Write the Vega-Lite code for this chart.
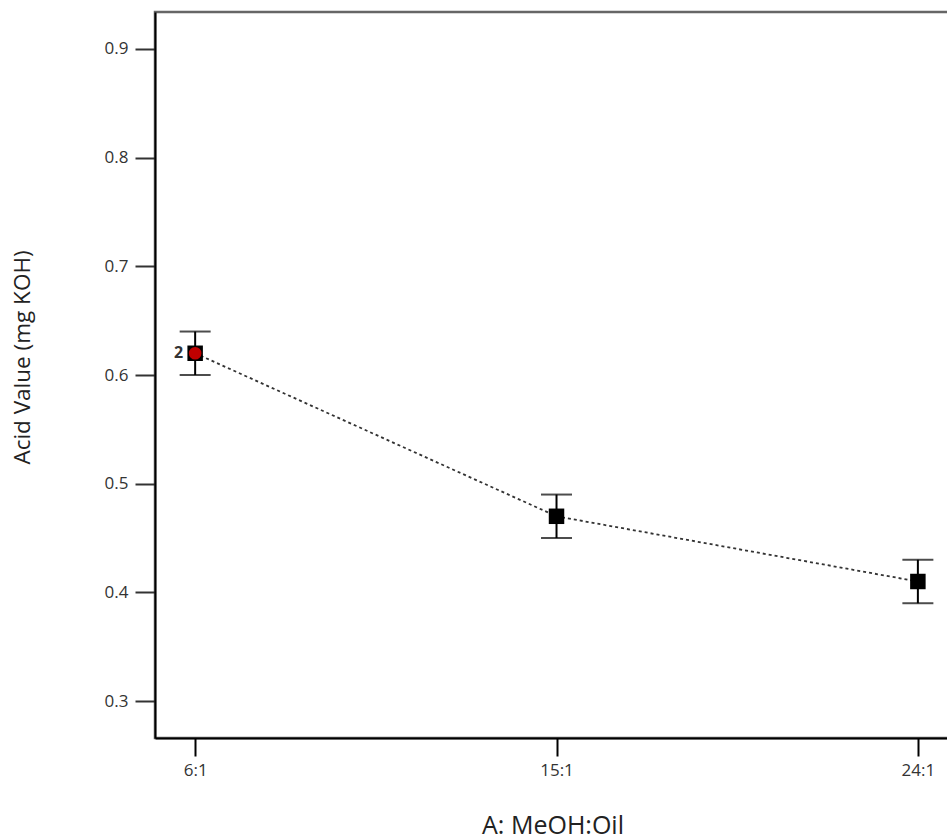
{
  "$schema": "https://vega.github.io/schema/vega-lite/v6.json",
  "autosize": "none",
  "width": 795,
  "height": 726,
  "padding": {"left": 155, "top": 12, "right": 0, "bottom": 101},
  "background": "white",
  "config": {
    "view": {"stroke": "#666", "strokeWidth": 2.5},
    "font": "Open Sans"
  },
  "data": {
    "values": [
      {"ratio": 6, "acid": 0.62, "lo": 0.60, "hi": 0.64, "design": "yes", "count": "2"},
      {"ratio": 15, "acid": 0.47, "lo": 0.45, "hi": 0.49, "design": "no", "count": ""},
      {"ratio": 24, "acid": 0.41, "lo": 0.39, "hi": 0.43, "design": "no", "count": ""}
    ]
  },
  "encoding": {
    "x": {
      "field": "ratio",
      "type": "quantitative",
      "scale": {"domain": [5, 24.8], "nice": false, "zero": false},
      "axis": {
        "title": "A: MeOH:Oil",
        "values": [6, 15, 24],
        "labelExpr": "datum.value + ':1'",
        "grid": false,
        "domainColor": "black",
        "domainWidth": 2,
        "tickColor": "black",
        "tickWidth": 2,
        "tickSize": 18,
        "labelFontSize": 17,
        "labelColor": "#333",
        "labelPadding": 6,
        "labelFlush": false,
        "titleFontSize": 25,
        "titleFontWeight": "normal",
        "titleColor": "#222",
        "titlePadding": 35
      }
    }
  },
  "layer": [
    {
      "mark": {"type": "line", "color": "#333", "strokeDash": [3, 3], "strokeWidth": 1.8},
      "encoding": {
        "y": {
          "field": "acid",
          "type": "quantitative",
          "scale": {"domain": [0.266, 0.934], "nice": false, "zero": false},
          "axis": {
            "title": "Acid Value (mg KOH)",
            "values": [0.3, 0.4, 0.5, 0.6, 0.7, 0.8, 0.9],
            "format": ".1f",
            "grid": false,
            "domainColor": "black",
            "domainWidth": 2,
            "tickColor": "#333",
            "tickWidth": 2,
            "tickSize": 20,
            "labelFontSize": 17,
            "labelColor": "#333",
            "labelPadding": 7,
            "titleFontSize": 22.5,
            "titleFontWeight": "normal",
            "titleColor": "#222",
            "titlePadding": 70,
            "titleY": 345
          }
        }
      }
    },
    {
      "mark": {"type": "rule", "color": "black", "strokeWidth": 2},
      "encoding": {"y": {"field": "lo", "type": "quantitative"}, "y2": {"field": "hi"}}
    },
    {
      "mark": {"type": "tick", "orient": "horizontal", "color": "black", "size": 31, "thickness": 2},
      "encoding": {"y": {"field": "lo", "type": "quantitative"}}
    },
    {
      "mark": {"type": "tick", "orient": "horizontal", "color": "black", "size": 31, "thickness": 2},
      "encoding": {"y": {"field": "hi", "type": "quantitative"}}
    },
    {
      "mark": {"type": "square", "color": "black", "filled": true, "size": 240, "opacity": 1},
      "encoding": {"y": {"field": "acid", "type": "quantitative"}}
    },
    {
      "transform": [{"filter": "datum.design == 'yes'"}],
      "mark": {"type": "circle", "color": "#c00000", "size": 160, "opacity": 1},
      "encoding": {"y": {"field": "acid", "type": "quantitative"}}
    },
    {
      "transform": [{"filter": "datum.design == 'yes'"}],
      "mark": {"type": "text", "align": "right", "dx": -12, "fontSize": 16, "fontWeight": "bold", "color": "#333"},
      "encoding": {"y": {"field": "acid", "type": "quantitative"}, "text": {"field": "count"}}
    }
  ]
}
